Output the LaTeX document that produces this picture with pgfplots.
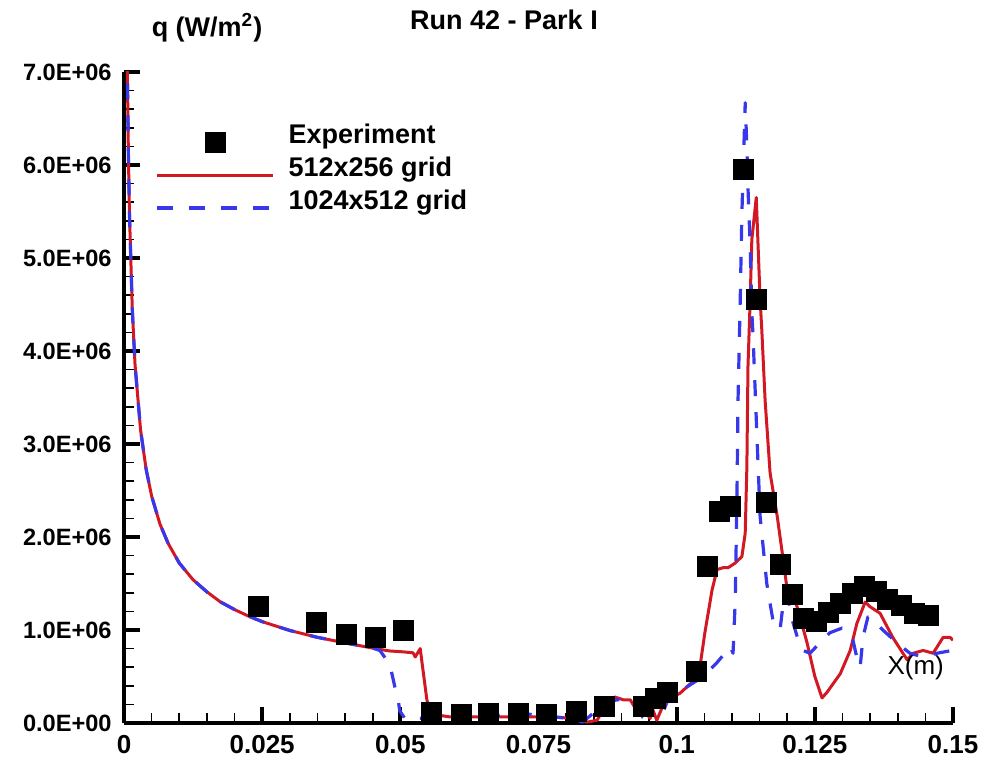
\documentclass[border=0pt]{standalone}
\usepackage{fontspec}
\setmainfont{Liberation Sans}
\usepackage{pgfplots}
\pgfplotsset{compat=1.18}
\usepackage{pgfplotstable}
\definecolor{cred}{RGB}{210,25,35}
\definecolor{cblue}{RGB}{55,55,235}
\pgfplotsset{
  linelegend/.style={legend image code/.code={\draw[##1] (0pt,-2.5pt) -- (58pt,-2.5pt);}},
  marklegend/.style={legend image code/.code={\draw[##1] plot coordinates {(29pt,-2.5pt)};}},
}

\pgfplotstableread{
x q
0.0244 1.258
0.0349 1.086
0.0402 0.957
0.0454 0.925
0.0505 1.00
0.0557 0.118
0.0610 0.097
0.0660 0.10
0.0713 0.10
0.0765 0.09
0.0818 0.13
0.0870 0.18
0.0939 0.18
0.0961 0.26
0.0984 0.33
0.1035 0.55
0.1055 1.68
0.1078 2.27
0.1098 2.33
0.1120 5.95
0.1144 4.55
0.1163 2.37
0.1187 1.71
0.1210 1.38
0.1230 1.13
0.1252 1.09
0.1274 1.19
0.1296 1.29
0.1318 1.39
0.1340 1.47
0.1361 1.42
0.1382 1.33
0.1406 1.26
0.1430 1.18
0.1455 1.16
}\expdata

\pgfplotstableread{
x q
0.0001 17.2
0.0002 12.19
0.0004 8.62
0.0006 7.04
0.0008 6.09
0.0010 5.45
0.0015 4.45
0.0020 3.85
0.0030 3.15
0.0040 2.73
0.0050 2.44
0.0065 2.14
0.0080 1.93
0.0100 1.72
0.0125 1.54
0.0150 1.41
0.0175 1.30
0.0200 1.22
0.0225 1.15
0.0250 1.09
0.0300 0.995
0.0350 0.921
0.0400 0.862
0.0450 0.805
0.0480 0.775
0.0505 0.765
0.0523 0.755
0.0527 0.71
0.0536 0.80
0.0539 0.66
0.0548 0.25
0.0554 0.12
0.0568 0.085
0.0590 0.065
0.0644 0.065
0.0704 0.065
0.0776 0.065
0.0812 0.05
0.0838 0.01
0.0856 0.03
0.0874 0.21
0.0888 0.28
0.0903 0.25
0.0916 0.25
0.0925 0.16
0.0930 0.21
0.0939 0.10
0.0948 0.08
0.0952 0.05
0.0957 0.14
0.0964 0.03
0.0974 0.17
0.0983 0.25
0.1006 0.32
0.1030 0.45
0.1042 0.60
0.1051 0.97
0.1064 1.43
0.1073 1.65
0.1084 1.67
0.1093 1.67
0.1106 1.72
0.1118 1.79
0.1124 2.04
0.1127 2.75
0.1129 3.83
0.1133 4.55
0.1136 5.20
0.1144 5.65
0.1151 4.55
0.1154 4.23
0.1160 3.47
0.1169 2.69
0.1182 2.22
0.1191 1.83
0.1200 1.43
0.1205 1.29
0.1214 1.32
0.1220 1.21
0.1236 0.86
0.1250 0.50
0.1263 0.27
0.1272 0.33
0.1296 0.53
0.1314 0.78
0.1326 1.07
0.1341 1.30
0.1350 1.25
0.1368 1.18
0.1391 0.92
0.1417 0.68
0.1428 0.75
0.1446 0.78
0.1464 0.75
0.1482 0.92
0.1495 0.92
0.1500 0.89
}\reddata

\pgfplotstableread{
x q
0.0001 17.2
0.0002 12.19
0.0004 8.62
0.0006 7.04
0.0008 6.09
0.0010 5.45
0.0015 4.45
0.0020 3.85
0.0030 3.15
0.0040 2.73
0.0050 2.44
0.0065 2.14
0.0080 1.93
0.0100 1.72
0.0125 1.54
0.0150 1.41
0.0175 1.30
0.0200 1.22
0.0225 1.15
0.0250 1.09
0.0300 0.995
0.0350 0.921
0.0400 0.862
0.0450 0.805
0.0463 0.78
0.0481 0.63
0.0490 0.39
0.0496 0.25
0.0499 0.13
0.0508 0.05
0.0536 0.05
0.0584 0.065
0.0650 0.07
0.0722 0.10
0.0760 0.08
0.0802 0.05
0.0830 0.01
0.0856 0.14
0.0874 0.23
0.0894 0.25
0.0910 0.25
0.0928 0.17
0.0939 0.06
0.0946 0.03
0.0955 0.21
0.0964 0.25
0.0974 0.10
0.0983 0.23
0.0993 0.28
0.1019 0.39
0.1048 0.50
0.1073 0.65
0.1097 0.82
0.1102 0.75
0.1106 1.32
0.1109 2.40
0.1111 3.47
0.1115 4.55
0.1118 5.48
0.1124 6.67
0.1127 6.20
0.1129 5.76
0.1133 5.12
0.1136 4.41
0.1138 4.19
0.1145 3.12
0.1151 2.22
0.1163 1.50
0.1174 1.11
0.1187 1.00
0.1192 1.25
0.1200 1.40
0.1209 1.11
0.1220 0.89
0.1229 0.78
0.1241 0.75
0.1259 0.86
0.1277 0.97
0.1299 1.02
0.1310 0.98
0.1319 0.89
0.1328 0.65
0.1332 0.60
0.1337 0.92
0.1346 1.14
0.1355 1.11
0.1373 1.00
0.1399 0.86
0.1422 0.75
0.1446 0.71
0.1471 0.75
0.1498 0.78
}\bluedata

\begin{document}
\begin{tikzpicture}
\begin{axis}[
  name=ax,
  scale only axis,
  width=414.5pt, height=325.5pt,
  xmin=0, xmax=0.15, ymin=0, ymax=7,
  axis lines*=left,
  axis line style={line width=2pt,-},
  tick align=inside,
  xtick={0,0.025,0.05,0.075,0.1,0.125,0.15},
  xticklabels={0,0.025,0.05,0.075,0.1,0.125,0.15},
  ytick={0,1,2,3,4,5,6,7},
  yticklabels={0.0E+00,1.0E+06,2.0E+06,3.0E+06,4.0E+06,5.0E+06,6.0E+06,7.0E+06},
  minor x tick num=4, minor y tick num=4,
  major tick length=8pt, minor tick length=5pt,
  major tick style={line width=2pt,black},
  minor tick style={line width=0.8pt,black},
  xticklabel style={font=\bfseries\fontsize{13}{15}\selectfont, inner sep=0pt, yshift=-6pt},
  yticklabel style={font=\bfseries\fontsize{11.8}{14}\selectfont, inner sep=0pt, xshift=-6pt},
  clip=true,
  xlabel={X(m)},
  xlabel style={at={(axis description cs:0.955,0.0845)}, anchor=center, inner sep=0pt, font=\fontsize{13}{15}\selectfont},
  legend cell align=left,
  legend style={at={(axis description cs:0.0374,0.926)}, anchor=north west, draw=none, fill=none,
    font=\bfseries\fontsize{13.5}{15}\selectfont, inner sep=0pt, row sep=0pt,
    nodes={inner sep=2pt, text height=9.5pt, text depth=3pt},
    /tikz/every odd column/.append style={column sep=5pt}},
]
\addplot[only marks, mark=square*, mark size=5pt, black, marklegend]
  table[x=x,y=q]{\expdata};
\addlegendentry{Experiment}
\addplot[cred, line width=1.5pt, line join=round, no marks, linelegend]
  table[x=x,y=q]{\reddata};
\addlegendentry{512x256 grid}
\addplot[cblue, line width=1.6pt, dash pattern=on 8pt off 8pt, line join=round, no marks, linelegend]
  table[x=x,y=q]{\bluedata};
\addlegendentry{1024x512 grid}
\end{axis}
\node[anchor=base, inner sep=0pt, font=\bfseries\fontsize{13.5}{16}\selectfont]
  at ([shift={(190pt,21pt)}]ax.north west) {Run 42 - Park I};
\node[anchor=base, inner sep=0pt, font=\bfseries\fontsize{13.5}{16}\selectfont]
  at ([shift={(41.5pt,17.5pt)}]ax.north west) {q (W/m\textsuperscript{2})};
\path ([shift={(-62pt,-18.5pt)}]ax.south west) rectangle ([shift={(14.5pt,36pt)}]ax.north east);
\end{tikzpicture}
\end{document}
